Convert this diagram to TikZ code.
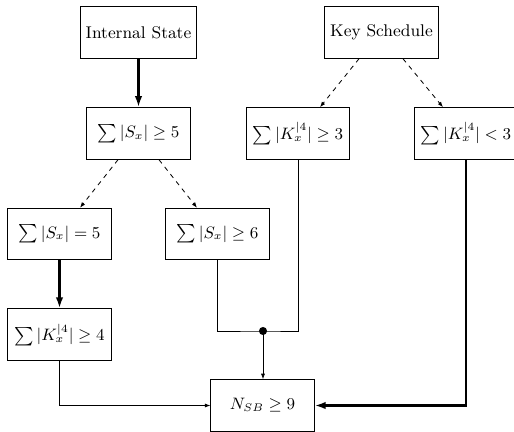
\documentclass[tikz,border=0pt]{standalone}
\usetikzlibrary{arrows.meta}
\begin{document}
\begin{tikzpicture}[x=0.543pt,y=-0.543pt,
  box/.style={draw,line width=0.5pt,minimum width=56pt,minimum height=28pt,inner sep=0pt,font=\fontsize{9.2pt}{11pt}\selectfont},
  thinln/.style={line width=0.45pt},
  thickln/.style={line width=1.5pt},
  thinarr/.style={thinln,-{Latex[length=3pt,width=2.2pt]}},
  thickarr/.style={thickln,-{Latex[length=6pt,width=4pt]}},
  dasharr/.style={thinln,dashed,dash pattern=on 2.5pt off 2.5pt,-{Latex[length=3pt,width=2.2pt]}}]
\useasboundingbox (0,0) rectangle (514,431);
\node[box,minimum width=62.5pt] (is) at (138.5,32.5) {Internal State};
\node[box,minimum width=61.5pt] (ks) at (381.5,32.5) {Key Schedule};
\node[box] (s5) at (138.5,133.5) {$\sum|S_x|\geq 5$};
\node[box] (k3) at (298,133.5) {$\sum|K_x^{|4}|\geq 3$};
\node[box] (kl3) at (466,133.5) {$\sum|K_x^{|4}|<3$};
\node[box] (se5) at (59.5,234) {$\sum|S_x|=5$};
\node[box] (s6) at (217.5,234) {$\sum|S_x|\geq 6$};
\node[box] (k4) at (59.5,334.7) {$\sum|K_x^{|4}|\geq 4$};
\node[box] (nsb) at (262.5,405.5) {$N_{SB}\geq 9$};
\coordinate (j) at (263,331);
\draw[thickarr] (is) -- (s5);
\draw[dasharr] (ks.south -| 359,0) -- (k3.north -| 320,0);
\draw[dasharr] (ks.south -| 403,0) -- (kl3.north -| 443,0);
\draw[dasharr] (s5.south -| 118,0) -- (se5.north -| 80,0);
\draw[dasharr] (s5.south -| 159,0) -- (s6.north -| 197,0);
\draw[thickarr] (se5) -- (k4);
\draw[thinln] (s6.south) |- (j) -| (k3.south);
\fill (j) circle (2.2pt);
\draw[thinarr] (j) -- (nsb.north -| j);
\draw[thinarr] (k4.south) |- (nsb.west);
\draw[thickarr] (kl3.south) |- (nsb.east);
\end{tikzpicture}
\end{document}
